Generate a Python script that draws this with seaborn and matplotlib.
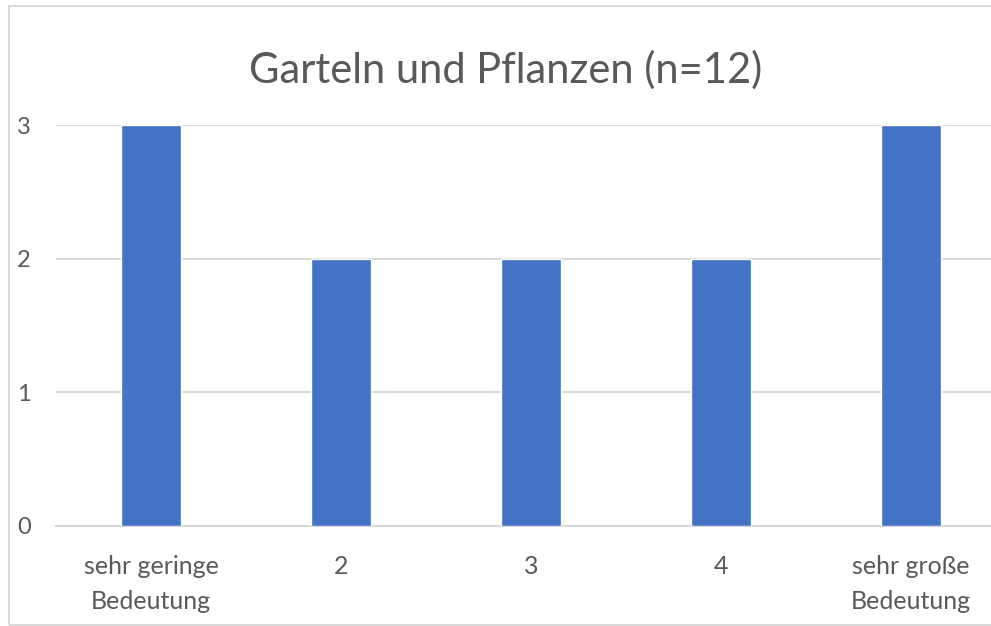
import seaborn as sns
import matplotlib.pyplot as plt
from matplotlib.patches import Rectangle
import pandas as pd

# Data
categories = ["sehr geringe\nBedeutung", "2", "3", "4", "sehr große\nBedeutung"]
counts = [3, 2, 2, 2, 3]
y_ticks = [0, 1, 2, 3]

df = pd.DataFrame({"category": categories, "count": counts})

sns.set_style("white")
plt.rcParams["font.family"] = ["Lato", "DejaVu Sans"]

fig = plt.figure(figsize=(9.91, 6.26), dpi=100)

# chart border (Excel style, cut off at right edge)
fig.patches.append(Rectangle((9 / 991, 1 / 626), 1.2, 1 - 7 / 626,
                             transform=fig.transFigure, fill=False,
                             edgecolor="#d9d9d9", linewidth=1.5, zorder=0))

# plot area runs past the right edge like in the screenshot
ax = fig.add_axes([56 / 991, 100 / 626, 950 / 991, 401 / 626])

sns.barplot(data=df, x="category", y="count", color="#4472C4",
            saturation=1, width=0.316, ax=ax, zorder=3)

ax.set_xlim(-0.5, 4.5)
ax.set_ylim(0, 3)
ax.set_yticks(y_ticks)
ax.yaxis.grid(True, color="#d9d9d9", linewidth=1.5, zorder=0)
ax.set_axisbelow(True)
sns.despine(ax=ax, left=True, top=True, right=True, bottom=False)
ax.spines["bottom"].set_color("#d9d9d9")
ax.spines["bottom"].set_linewidth(1.5)

ax.tick_params(axis="x", length=0, colors="#595959", labelsize=18, pad=21)
ax.tick_params(axis="y", length=0, colors="#595959", labelsize=17, pad=18)
for lbl in ax.get_xticklabels():
    lbl.set_linespacing(1.6)
ax.set_xlabel("")
ax.set_ylabel("")

fig.text(506 / 991, 1 - 70 / 626, "Garteln und Pflanzen (n=12)",
         ha="center", va="center", fontsize=30, color="#595959")

fig.savefig("out.png", dpi=100)
